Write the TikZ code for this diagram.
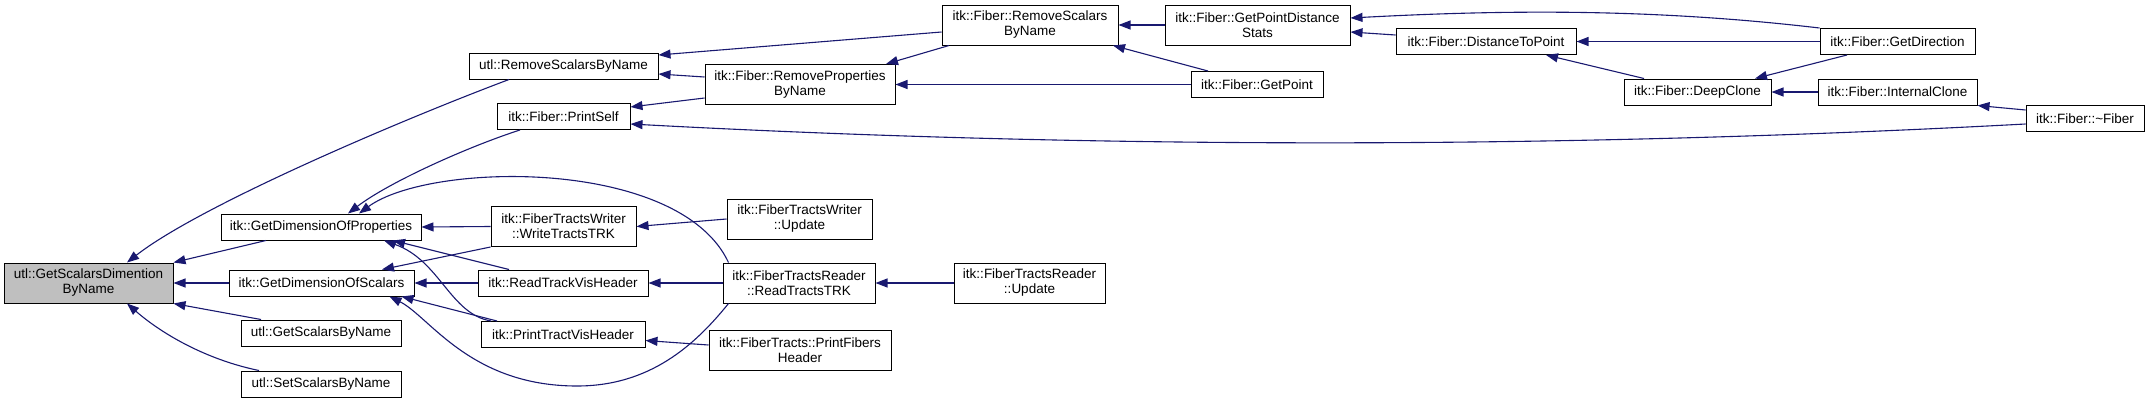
\documentclass[tikz,border=0pt]{standalone}
\usepackage{fontspec}
\setmainfont{Liberation Sans}
\usetikzlibrary{arrows.meta}
\definecolor{callblue}{RGB}{25,25,112}
\definecolor{rootgray}{RGB}{191,191,191}
\newcommand{\graphfont}{\fontsize{13.5}{15}\selectfont}
\tikzset{
  fn box/.style={draw, line width=1pt, fill=white, align=center, inner sep=0pt, minimum height=26pt},
  fn box2/.style={fn box, minimum height=40pt},
  root box/.style={fn box2, fill=rootgray},
  call/.style={draw=callblue, line width=1.1pt, {Triangle[length=12pt,width=9pt]}-},
}

\begin{document}
\begin{tikzpicture}[x=1pt, y=-1pt, every node/.style={font=\graphfont}]
  \useasboundingbox (0,0) rectangle (2149,402);
  % functions
  \node[root box, minimum width=169pt] (root)  at (88.5,283)  {utl::GetScalarsDimention\\ByName};
  \node[fn box,  minimum width=200pt] (dprop)  at (321,227)   {itk::GetDimensionOfProperties};
  \node[fn box,  minimum width=185pt] (dscal)  at (321.5,283) {itk::GetDimensionOfScalars};
  \node[fn box,  minimum width=160pt] (getsc)  at (321,333)   {utl::GetScalarsByName};
  \node[fn box,  minimum width=160pt] (setsc)  at (321,384)   {utl::SetScalarsByName};
  \node[fn box,  minimum width=189pt] (urem)   at (563.5,66)  {utl::RemoveScalarsByName};
  \node[fn box,  minimum width=133pt] (pself)  at (563.5,116.5) {itk::Fiber::PrintSelf};
  \node[fn box2, minimum width=145pt] (wtrk)   at (563.5,226.5) {itk::FiberTractsWriter\\::WriteTractsTRK};
  \node[fn box,  minimum width=170pt] (rtvh)   at (563,283)   {itk::ReadTrackVisHeader};
  \node[fn box,  minimum width=164pt] (ptvh)   at (563,334.5) {itk::PrintTractVisHeader};
  \node[fn box2, minimum width=176pt] (frem)   at (1030,25)   {itk::Fiber::RemoveScalars\\ByName};
  \node[fn box2, minimum width=190pt] (fremp)  at (800,84.5)  {itk::Fiber::RemoveProperties\\ByName};
  \node[fn box2, minimum width=145pt] (wupd)   at (799.5,219) {itk::FiberTractsWriter\\::Update};
  \node[fn box2, minimum width=152pt] (rtrk)   at (799,283)   {itk::FiberTractsReader\\::ReadTractsTRK};
  \node[fn box2, minimum width=182pt] (pfh)    at (800,350)   {itk::FiberTracts::PrintFibers\\Header};
  \node[fn box2, minimum width=185pt] (pds)    at (1257.5,25) {itk::Fiber::GetPointDistance\\Stats};
  \node[fn box,  minimum width=132pt] (gpt)    at (1257,84.5) {itk::Fiber::GetPoint};
  \node[fn box2, minimum width=151pt] (rupd)   at (1029.5,283) {itk::FiberTractsReader\\::Update};
  \node[fn box,  minimum width=180pt] (d2p)    at (1486,41.5) {itk::Fiber::DistanceToPoint};
  \node[fn box,  minimum width=147pt] (dclone) at (1697.5,92) {itk::Fiber::DeepClone};
  \node[fn box,  minimum width=155pt] (gdir)   at (1897.5,41.5) {itk::Fiber::GetDirection};
  \node[fn box,  minimum width=159pt] (iclone) at (1897.5,92) {itk::Fiber::InternalClone};
  \node[fn box,  minimum width=118pt] (dtor)   at (2085,118.5) {itk::Fiber::\textasciitilde Fiber};
  % callers of the root
  \draw[call] ([xshift=38.5pt]root.north) .. controls +(73,-57) and +(-109,41) .. ([xshift=-54.5pt]urem.south);
  \draw[call] (root.north east) -- ([xshift=-55pt]dprop.south);
  \draw[call] (root.east) -- (dscal.west);
  \draw[call] (root.south east) -- ([xshift=-60pt]getsc.north);
  \draw[call] ([xshift=38.5pt]root.south) .. controls +(38,33) and +(-49,-10) .. ([xshift=-62pt]setsc.north);
  % upper branch
  \draw[call] ([yshift=11pt]urem.east) -- ([yshift=-7pt]frem.west);
  \draw[call] ([yshift=-8pt]urem.east) -- ([yshift=7.5pt]fremp.west);
  \draw[call] ([yshift=9.5pt]pself.east) -- ([yshift=-13.5pt]fremp.west);
  \draw[call] ([yshift=-7.5pt]pself.east) .. controls +(465,25) and +(-465,25) .. ([yshift=-5.5pt]dtor.west);
  \draw[call] (frem.east) -- (pds.west);
  \draw[call] ([xshift=83pt]frem.south) -- ([xshift=-49pt]gpt.north);
  \draw[call] ([xshift=86pt]fremp.north) -- ([xshift=-81pt]frem.south);
  \draw[call] (fremp.east) -- (gpt.west);
  \draw[call] ([yshift=7pt]pds.east) .. controls +(150,-8) and +(-170,-20) .. (gdir.north west);
  \draw[call] ([yshift=-7pt]pds.east) -- ([yshift=6.5pt]d2p.west);
  \draw[call] (d2p.east) -- (gdir.west);
  \draw[call] ([xshift=60pt]d2p.south) -- ([xshift=-53.5pt]dclone.north);
  \draw[call] ([xshift=57.5pt]dclone.north) -- ([xshift=-50.5pt]gdir.south);
  \draw[call] (dclone.east) -- (iclone.west);
  \draw[call] (iclone.south east) -- ([yshift=8.5pt]dtor.west);
  % lower branch
  \draw[call] ([xshift=27pt]dprop.north) .. controls +(42,-32) and +(-50,16) .. ([xshift=-43.5pt]pself.south);
  \draw[call] ([xshift=38pt]dprop.north) .. controls +(71,-52) and +(-49,-105) .. ([xshift=6pt]rtrk.north west);
  \draw[call] (dprop.east) -- (wtrk.west);
  \draw[call] ([xshift=72pt]dprop.south) -- ([xshift=-54pt]rtvh.north);
  \draw[call] ([xshift=63pt]dprop.south) .. controls +(56,20) and +(-41,-7) .. ([xshift=-72pt]ptvh.north);
  \draw[call] ([xshift=60.5pt]dscal.north) -- (wtrk.south west);
  \draw[call] (dscal.east) -- (rtvh.west);
  \draw[call] ([xshift=80pt]dscal.south) -- ([xshift=-66pt]ptvh.north);
  \draw[call] ([xshift=68pt]dscal.south) .. controls +(40,20) and (470,386) .. (577,386)
    .. controls (650,386) and (695,345) .. ([xshift=6pt]rtrk.south west);
  \draw[call] (wtrk.east) -- (wupd.west);
  \draw[call] (rtvh.east) -- (rtrk.west);
  \draw[call] ([yshift=-6pt]ptvh.east) -- ([yshift=5pt]pfh.west);
  \draw[call] (rtrk.east) -- (rupd.west);
\end{tikzpicture}
\end{document}
